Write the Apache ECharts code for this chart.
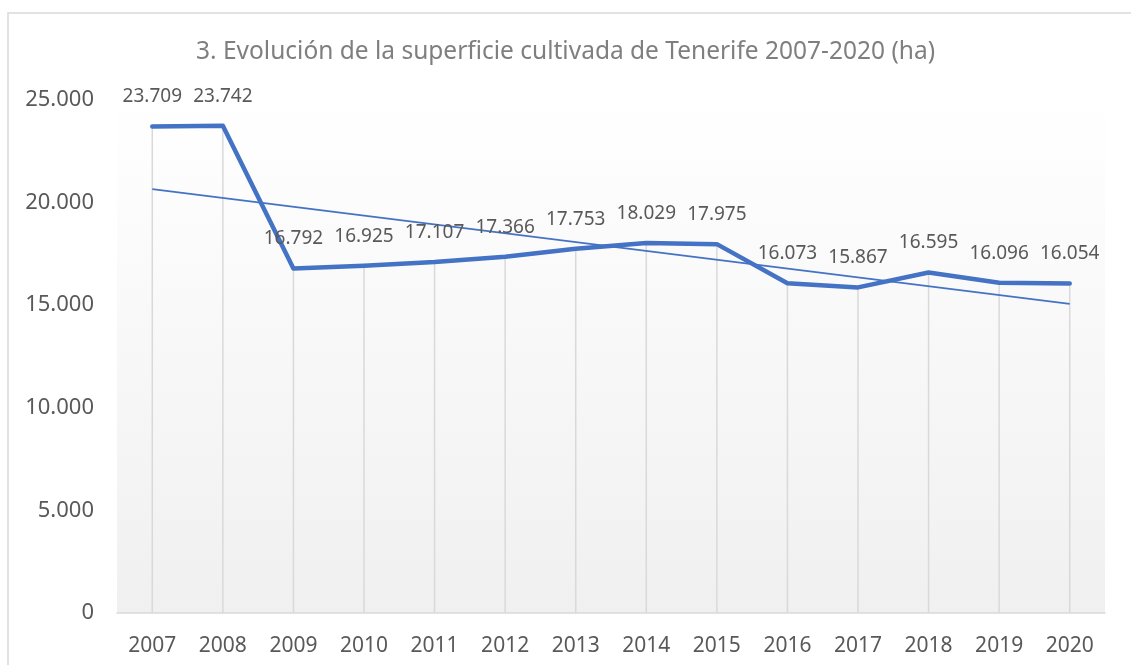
<!DOCTYPE html>
<html>
<head>
<meta charset="utf-8">
<script src="https://cdn.jsdelivr.net/npm/echarts@6/dist/echarts.min.js"></script>
<style>
  html, body { margin: 0; padding: 0; background: #fff; }
  #superficie { width: 1131px; height: 665px; }
</style>
</head>
<body>
<div id="superficie"></div>
<script>
// datos (ha)
var years = ["2007", "2008", "2009", "2010", "2011", "2012", "2013", "2014", "2015", "2016", "2017", "2018", "2019", "2020"];
var hectareas = [23709, 23742, 16792, 16925, 17107, 17366, 17753, 18029, 17975, 16073, 15867, 16595, 16096, 16054];
// linea de tendencia (extremos)
var tendencia = [["2007", 20660], ["2020", 15065]];
var yTicks = [0, 5000, 10000, 15000, 20000, 25000];

var FONT = "Noto Sans";

// separador de miles con punto
function fmt(v) {
  return String(v).replace(/\B(?=(\d{3})+(?!\d))/g, ".");
}

var myChart = echarts.init(document.getElementById("superficie"));

myChart.setOption({
  backgroundColor: "#ffffff",
  animation: false,
  textStyle: { fontFamily: FONT },
  title: {
    text: "3. Evolución de la superficie cultivada de Tenerife 2007-2020 (ha)",
    left: "center",
    top: 35,
    textStyle: { color: "#7f7f7f", fontSize: 24.5, fontWeight: "normal", fontFamily: FONT }
  },
  graphic: [
    {
      type: "rect",
      shape: { x: 8, y: 13, width: 1200, height: 700 },
      style: { fill: "none", stroke: "#d9d9d9", lineWidth: 1.5 },
      silent: true
    }
  ],
  grid: {
    left: 117,
    right: 26,
    top: 100,
    bottom: 52,
    show: true,
    borderWidth: 0,
    backgroundColor: new echarts.graphic.LinearGradient(0, 0, 0, 1, [
      { offset: 0, color: "#ffffff" },
      { offset: 1, color: "#f0f0f0" }
    ])
  },
  xAxis: {
    type: "category",
    data: years,
    boundaryGap: true,
    axisLine: { lineStyle: { color: "#d9d9d9", width: 1.5 } },
    axisTick: { show: false },
    axisLabel: { color: "#595959", fontSize: 21, margin: 23, fontFamily: FONT }
  },
  yAxis: {
    type: "value",
    min: yTicks[0],
    max: yTicks[yTicks.length - 1],
    interval: 5000,
    axisLine: { show: false },
    axisTick: { show: false },
    splitLine: { show: false },
    axisLabel: {
      color: "#595959",
      fontSize: 22,
      margin: 23,
      fontFamily: FONT,
      formatter: function (v) { return fmt(v); }
    }
  },
  series: [
    {
      // lineas de caida
      name: "caida",
      type: "bar",
      barWidth: 1.5,
      silent: true,
      itemStyle: { color: "#d9d9d9" },
      data: hectareas
    },
    {
      name: "Tendencia",
      type: "line",
      data: tendencia,
      symbol: "none",
      silent: true,
      lineStyle: { color: "#4472c4", width: 1.8 }
    },
    {
      name: "Superficie cultivada",
      type: "line",
      data: hectareas,
      symbol: "circle",
      symbolSize: 0,
      showSymbol: true,
      itemStyle: { color: "#4472c4" },
      lineStyle: { color: "#4472c4", width: 4.5, cap: "round", join: "round" },
      labelLayout: { hideOverlap: false },
      label: {
        show: true,
        position: "top",
        distance: 20,
        color: "#595959",
        fontSize: 19,
        fontFamily: FONT,
        formatter: function (p) { return fmt(p.value); }
      }
    }
  ]
});

window.addEventListener("resize", function () {
  myChart.resize();
});
</script>
</body>
</html>
